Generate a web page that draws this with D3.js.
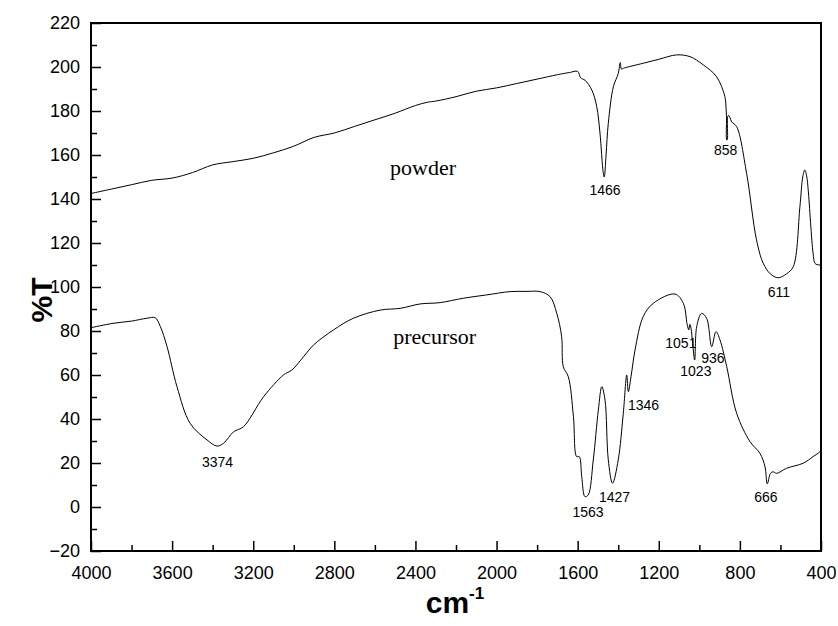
<!DOCTYPE html>
<html><head><meta charset="utf-8">
<script src="https://cdn.jsdelivr.net/npm/d3@7"></script>
<style>body{margin:0;background:#fff}svg{display:block}</style>
</head><body>
<svg id="chart" width="838" height="626"></svg>
<script>
const xTicks = [4000,3600,3200,2800,2400,2000,1600,1200,800,400];
const yTicks = [-20,0,20,40,60,80,100,120,140,160,180,200,220];

const powderWn = [4000,3900,3800,3700,3600,3500,3400,3300,3200,3100,3000,2900,2800,2700,2600,2500,2400,2340,2300,2200,2100,2000,1900,1800,1700,1640,1600,1585,1564,1530,1506,1490,1474,1469,1460,1449,1424,1400,1390,1384,1375,1277,1200,1112,1046,981,915,874,868,866,865,862,860,855,849,840,816,767,718,685,650,611,570,537,504,490,480,470,463,439,430,420,405,400];
const powderT  = [142.5,144.5,146.5,148.5,149.5,152,155.5,157,158.5,161,164,168,170,173,176,179,182.5,184,184.5,186.5,189,190.5,192.5,194.5,196.5,197.5,198,195,194,189.5,182,170,152,150,160,174.4,191,197,202,199,199.4,201.7,203.5,205.5,204.7,201,195.6,186.5,181,177,166.8,167,177.5,178,177,175,172.9,151.7,121.4,110.8,106,104.2,106,109.2,136.5,150,153.2,150,144,115.3,110.8,110.2,110,110];

const precWn = [4000,3890,3800,3724,3683,3658,3625,3576,3511,3428,3379,3346,3297,3248,3149,3051,3009,2952,2903,2804,2706,2574,2475,2377,2278,2164,2049,1933,1850,1786,1736,1703,1679,1671,1646,1621,1605,1592,1580,1564,1548,1523,1498,1481,1465,1449,1428,1400,1375,1358,1350,1337,1317,1277,1227,1120,1079,1060,1052,1047,1041,1033,1023,1013,989,964,939,918,898,865,816,750,701,676,665,649,636,619,570,488,439,406,400];
const precT  = [81.5,83.5,84.5,85.8,86,82,72.9,54.7,38,30.5,27.7,29,34.2,36.5,50.1,60,62.3,68.3,73.6,80.5,85.8,89.5,90.3,92.3,92.9,94.9,96.4,97.9,98,97.9,95.6,88,77.4,63.8,59.2,41.2,22.9,22.9,13.8,4.7,5.5,21.4,44.1,54.7,48.6,21.4,10.8,21.4,42.6,60,52.4,59.2,71.4,86.5,92.6,96.8,92.6,83,80.5,83,81.2,74.4,66.8,82,88,85.8,72.9,79.7,75.9,63.8,42.6,29.7,24.4,18.3,10.5,15.3,16,15.3,17.6,19.9,22.9,25.1,26];

const peakLabels = ["1466","858","611","3374","1563","1427","1346","1051","1023","936","666"];
const peakLabelWn = [1465,870,608,3376,1549,1418,1275,1091,1017,933,672];
const peakLabelT  = [141.8,160,95.5,18.2,-4.5,2.3,44.1,72.3,59.5,65.5,2.3];
const seriesNames = ["powder","precursor"];
const seriesNameWn = [2525,2510];
const seriesNameT = [151,74];

const svg = d3.select("#chart");
const L = 91, R = 821, T = 23, B = 551;
const x = d3.scaleLinear().domain([4000,400]).range([L,R]);
const y = d3.scaleLinear().domain([-20,220]).range([B,T]);

svg.append("rect").attr("width",838).attr("height",626).attr("fill","#fff");

// curves
const line = d3.line().x(d=>x(d[0])).y(d=>y(d[1])).curve(d3.curveCatmullRom.alpha(0.5));
svg.append("path").datum(powderWn.map((w,i)=>[w,powderT[i]]))
  .attr("d",line).attr("fill","none").attr("stroke","#000").attr("stroke-width",1);
svg.append("path").datum(precWn.map((w,i)=>[w,precT[i]]))
  .attr("d",line).attr("fill","none").attr("stroke","#000").attr("stroke-width",1);

// axes
const xMinor = d3.range(4000,399,-200).filter(v=>!xTicks.includes(v));
const yMinor = d3.range(-10,220,20);
svg.append("g").attr("transform",`translate(0,${B})`)
  .call(d3.axisBottom(x).tickValues(xTicks).tickSize(-10).tickPadding(15).tickFormat(d3.format("d")));
svg.append("g").attr("transform",`translate(0,${B})`)
  .call(d3.axisBottom(x).tickValues(xMinor).tickSize(-6).tickFormat(""));
svg.append("g").attr("transform",`translate(${L},0)`)
  .call(d3.axisLeft(y).tickValues(yTicks).tickSize(-10).tickPadding(11).tickFormat(d3.format("d")));
svg.append("g").attr("transform",`translate(${L},0)`)
  .call(d3.axisLeft(y).tickValues(yMinor).tickSize(-6).tickFormat(""));
svg.selectAll(".tick line").attr("stroke","#000").attr("stroke-width",1.5);
svg.selectAll(".domain").remove();
svg.selectAll(".tick text").attr("font-family","Liberation Sans, Arial, sans-serif")
  .attr("font-size",18).attr("fill","#000");

// frame
svg.append("rect").attr("x",L).attr("y",T).attr("width",R-L).attr("height",B-T)
  .attr("fill","none").attr("stroke","#000").attr("stroke-width",2);

// series names
svg.selectAll(".sname").data(seriesNames).enter().append("text")
  .attr("x",(d,i)=>x(seriesNameWn[i])).attr("y",(d,i)=>y(seriesNameT[i]))
  .attr("font-family","Liberation Serif, Times New Roman, serif").attr("font-size",22)
  .attr("fill","#000").text(d=>d);

// peak labels
svg.selectAll(".plab").data(peakLabels).enter().append("text")
  .attr("x",(d,i)=>x(peakLabelWn[i])).attr("y",(d,i)=>y(peakLabelT[i]))
  .attr("text-anchor","middle").attr("font-family","Liberation Sans, Arial, sans-serif")
  .attr("font-size",14).attr("fill","#000").text(d=>d);

// axis titles
svg.append("text").attr("transform","translate(52,300) rotate(-90)")
  .attr("text-anchor","middle").attr("font-family","Liberation Sans, Arial, sans-serif")
  .attr("font-weight","bold").attr("font-size",30).text("%T");
const xt = svg.append("text").attr("x",455).attr("y",613).attr("text-anchor","middle")
  .attr("font-family","Liberation Sans, Arial, sans-serif").attr("font-weight","bold").attr("font-size",30);
xt.append("tspan").text("cm");
xt.append("tspan").attr("dy",-14).attr("font-size",17).text("-1");
</script>
</body></html>
